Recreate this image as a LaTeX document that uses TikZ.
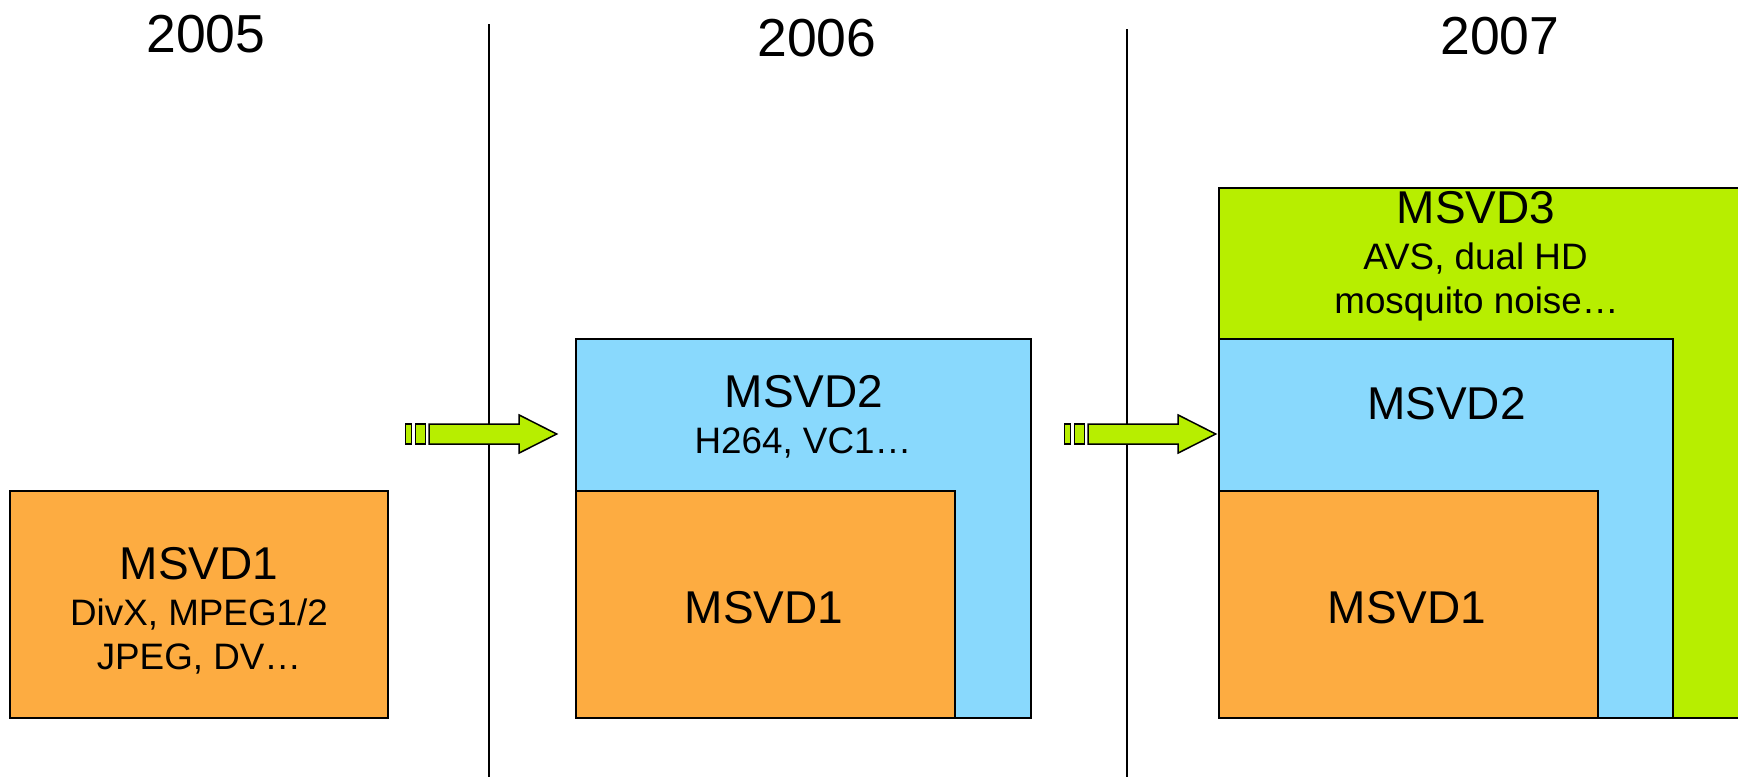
\documentclass[tikz,border=0pt]{standalone}
\usepackage{fontspec}
\setmainfont{Liberation Sans}
\definecolor{morange}{RGB}{253,172,65}
\definecolor{mblue}{RGB}{137,217,253}
\definecolor{mgreen}{RGB}{183,238,0}
\newcommand\yrsize{\fontsize{53.5}{60}\selectfont}
\newcommand\ttlsize{\fontsize{46}{52}\selectfont}
\newcommand\subsize{\fontsize{36.8}{44}\selectfont}
\begin{document}
\begin{tikzpicture}[x=1pt,y=-1pt,
  box/.style={draw=black, line width=1.5pt, inner sep=0pt, outer sep=0pt, anchor=north west},
  lbl/.style={inner sep=0pt, anchor=base, text=black},
  divider/.style={draw=black, line width=1.3pt},
  arrowpart/.style={draw=black, line width=1.5pt, fill=mgreen, line join=miter},
  blockarrow/.pic={
    \path[arrowpart] (-151,-10) rectangle (-145,10);
    \path[arrowpart] (-141,-10) rectangle (-131,10);
    \path[arrowpart] (-127.5,-10) -- (-37.5,-10) -- (-37.5,-19) -- (0,0)
      -- (-37.5,19) -- (-37.5,10) -- (-127.5,10) -- cycle;
  }]
\useasboundingbox (0,0) rectangle (1738,777);

% year dividers
\coordinate (v1top) at (489,24);
\coordinate (v1bot) at (489,777);
\coordinate (v2top) at (1127,29);
\coordinate (v2bot) at (1127,777);
\draw[divider] (v1top) -- (v1bot);
\draw[divider] (v2top) -- (v2bot);

% year labels
\node[lbl] (y2005) at (206,52) {\yrsize 2005};
\node[lbl] (y2006) at (817,56.5) {\yrsize 2006};
\node[lbl] (y2007) at (1500,54) {\yrsize 2007};

% 2005
\node[box, fill=morange, minimum width=378, minimum height=227] (o1) at (10,491) {};
\node[lbl] (o1t) at (199,579) {\ttlsize MSVD1};
\node[lbl] (o1a) at (199,625.7) {\subsize DivX, MPEG1/2};
\node[lbl] (o1b) at (199,669.3) {\subsize JPEG, DV…};

% 2006
\node[box, fill=mblue, minimum width=455, minimum height=379] (b2) at (576,339) {};
\node[box, fill=morange, minimum width=379, minimum height=227] (o2) at (576,491) {};
\node[lbl] (b2t) at (804,407.3) {\ttlsize MSVD2};
\node[lbl] (b2a) at (803,453.3) {\subsize H264, VC1…};
\node[lbl] (o2t) at (764,623.7) {\ttlsize MSVD1};

% 2007
\node[box, fill=mgreen, minimum width=530, minimum height=530] (g3) at (1219,188) {};
\node[box, fill=mblue, minimum width=454, minimum height=379] (b3) at (1219,339) {};
\node[box, fill=morange, minimum width=379, minimum height=227] (o3) at (1219,491) {};
\node[lbl] (g3t) at (1476,223.3) {\ttlsize MSVD3};
\node[lbl] (g3a) at (1475.5,269) {\subsize AVS, dual HD};
\node[lbl] (g3b) at (1476.5,313.3) {\subsize mosquito noise…};
\node[lbl] (b3t) at (1446.5,419) {\ttlsize MSVD2};
\node[lbl] (o3t) at (1407,623.3) {\ttlsize MSVD1};

% progression arrows
\coordinate (a1tip) at (556.7,434);
\coordinate (a2tip) at (1215.7,434);
\pic at (a1tip) {blockarrow};
\pic at (a2tip) {blockarrow};
\end{tikzpicture}
\end{document}
